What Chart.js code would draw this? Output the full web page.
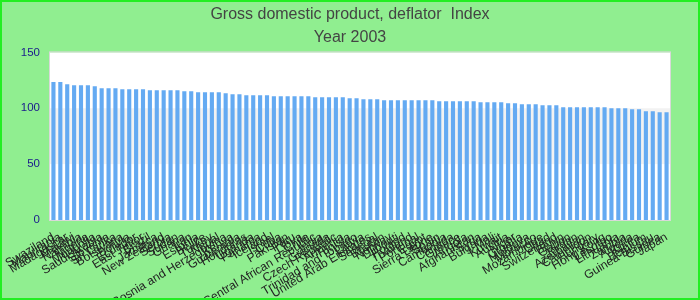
<!DOCTYPE html>
<html>
<head>
<meta charset="utf-8">
<script src="https://cdn.jsdelivr.net/npm/chart.js@4/dist/chart.umd.min.js"></script>
<style>
html,body{margin:0;padding:0;background:#90EE90;}
#wrap{width:700px;height:300px;position:relative;}
</style>
</head>
<body>
<div id="wrap"><canvas id="c" width="700" height="300"></canvas></div>
<script>
const titleLines = ["Gross domestic product, deflator  Index", "Year 2003"];
const countries = [
"Swaziland","Mauritania","Madagascar","Malawi","Namibia","Nigeria","Mongolia","Saudi Arabia","Slovenia","Sri Lanka",
"Botswana","Bolivia","Ecuador","East Timor","Brazil","Jamaica","New Zealand","Serbia","Sudan","Ghana",
"Iran","Estonia","Belize","Turkey","Nepal","Bosnia and Herzegovina","Kenya","Guatemala","Honduras","Uganda",
"Panama","Iceland","Israel","Cuba","Pakistan","Peru","Libya","Chile","Central African Republic","India",
"Grenada","Czech Republic","Armenia","Tunisia","Trinidad and Tobago","Latvia","United Arab Emirates","Senegal","Bhutan","Norway",
"Djibouti","Poland","Thailand","Portugal","Egypt","Sierra Leone","Spain","Cambodia","Canada","Greece",
"Angola","Afghanistan","Syria","Bulgaria","Mali","Kuwait","Austria","Niger","Croatia","Moldova",
"Morocco","Mozambique","Chad","Switzerland","Benin","Gabon","Jordan","Azerbaijan","Cameroon","Hungary",
"Hong Kong","Lesotho","Lithuania","Zambia","Algeria","Korea","Belgium","Guinea-Bissau","Guinea","Japan"
];
const deflatorValues = [
123.4,123.4,121.4,120.5,120.5,120.5,119.6,117.9,117.9,117.9,
117.0,117.0,117.0,117.0,116.1,116.1,116.1,116.1,116.1,115.2,
115.2,114.3,114.3,114.3,114.3,113.4,112.5,112.5,111.6,111.6,
111.6,111.6,110.7,110.7,110.7,110.7,110.7,110.7,109.8,109.8,
109.8,109.8,109.8,108.9,108.9,108.0,108.0,108.0,107.1,107.1,
107.1,107.1,107.1,107.1,107.1,107.1,106.2,106.2,106.2,106.2,
106.2,106.2,105.4,105.4,105.4,105.4,104.5,104.5,103.6,103.6,
103.6,102.7,102.7,102.7,100.9,100.9,100.9,100.9,100.9,100.9,
100.9,100.0,100.0,100.0,99.1,99.1,97.3,97.3,96.4,96.4
];
const yTicks = [0, 50, 100, 150];

const bgPlugin = {
  id: 'bg',
  beforeDraw(chart) {
    const ctx = chart.ctx, a = chart.chartArea, y = chart.scales.y;
    ctx.save();
    ctx.fillStyle = '#90EE90';
    ctx.fillRect(0, 0, chart.width, chart.height);
    ctx.fillStyle = '#ffffff';
    ctx.fillRect(a.left, a.top, a.right - a.left, a.bottom - a.top);
    ctx.fillStyle = '#f2f2f2';
    const y1 = y.getPixelForValue(yTicks[2]), y0 = y.getPixelForValue(yTicks[1]);
    ctx.fillRect(a.left, y1, a.right - a.left, y0 - y1);
    ctx.restore();
  },
  afterDraw(chart) {
    const ctx = chart.ctx, a = chart.chartArea;
    ctx.save();
    ctx.strokeStyle = '#d8d8d8';
    ctx.lineWidth = 1;
    ctx.strokeRect(a.left - 0.5, a.top - 0.5, a.right - a.left + 1, a.bottom - a.top + 1);
    ctx.strokeStyle = '#22ee22';
    ctx.lineWidth = 2;
    ctx.strokeRect(1, 1, chart.width - 2, chart.height - 2);
    ctx.restore();
  }
};

new Chart(document.getElementById('c'), {
  type: 'bar',
  data: {
    labels: countries,
    datasets: [{
      data: deflatorValues,
      backgroundColor: '#64aaf2',
      borderWidth: 0,
      barPercentage: 0.6,
      categoryPercentage: 1.0
    }]
  },
  options: {
    responsive: false,
    animation: false,
    devicePixelRatio: 1,
    layout: { padding: 0 },
    plugins: {
      legend: { display: false },
      tooltip: { enabled: false },
      title: {
        display: true,
        text: titleLines,
        color: '#444444',
        font: { family: 'Liberation Sans, Arial, sans-serif', size: 16, weight: 'normal', lineHeight: 1.45 },
        padding: { top: 3, bottom: 3 }
      }
    },
    scales: {
      x: {
        grid: { display: false },
        border: { display: false },
        ticks: {
          autoSkip: false,
          minRotation: 31,
          maxRotation: 31,
          color: '#222222',
          padding: 2,
          font: { family: 'Liberation Sans, Arial, sans-serif', size: 12 }
        },
        afterFit(s) { s.height = 80; }
      },
      y: {
        min: 0,
        max: 150,
        grid: { display: false },
        border: { display: false },
        afterBuildTicks(s) { s.ticks = yTicks.map(v => ({ value: v })); },
        ticks: {
          color: '#1a1a8c',
          padding: 2,
          font: { family: 'Liberation Sans, Arial, sans-serif', size: 11.5 }
        },
        afterFit(s) { s.width = 50; }
      },
      yRight: {
        position: 'right',
        display: true,
        grid: { display: false },
        border: { display: false },
        ticks: { display: false },
        afterFit(s) { s.width = 30; }
      }
    }
  },
  plugins: [bgPlugin]
});
</script>
</body>
</html>
